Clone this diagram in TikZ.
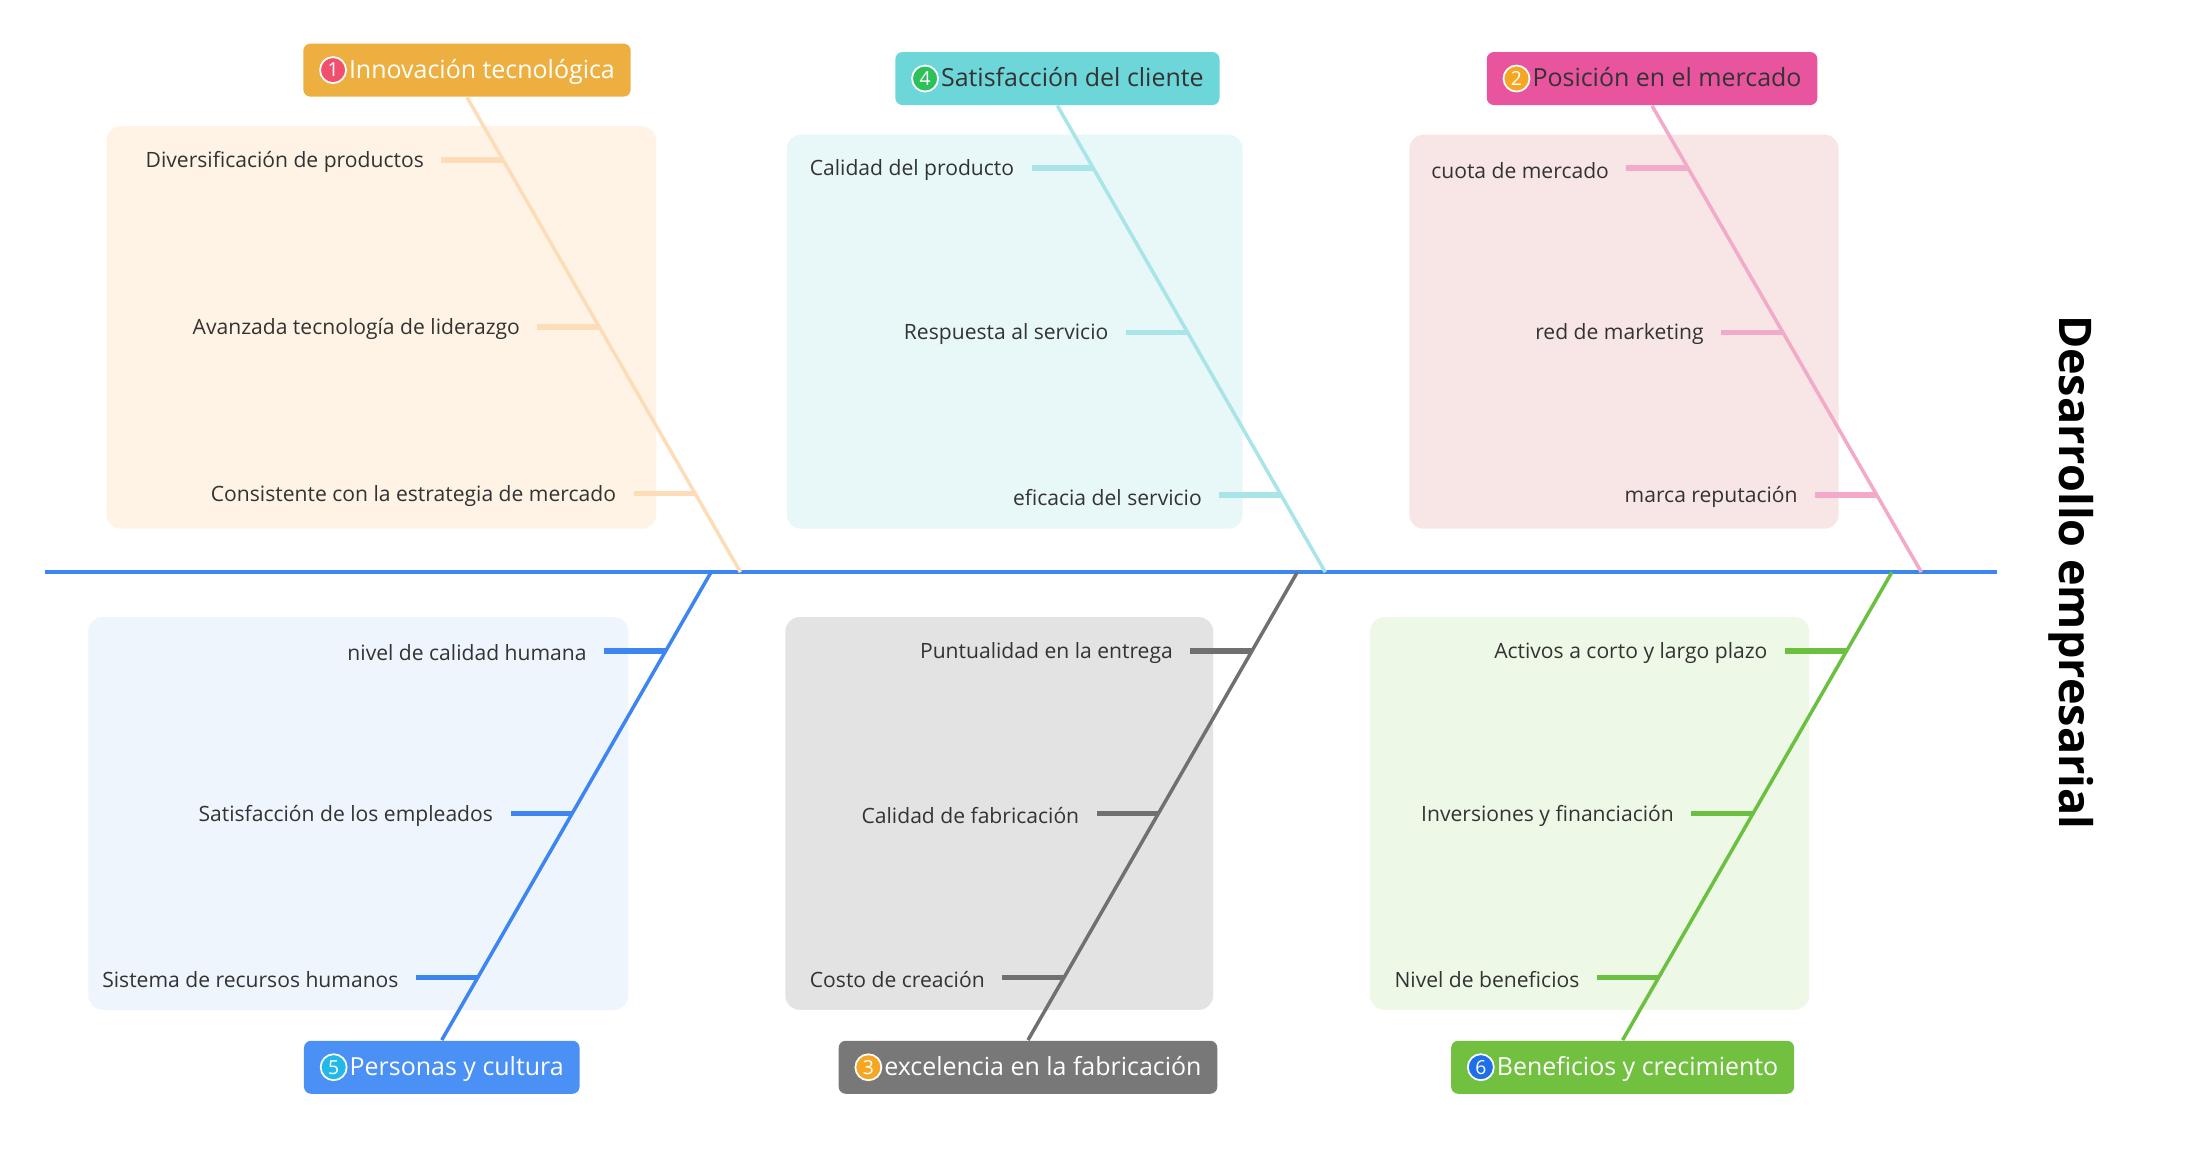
\documentclass[tikz,border=0pt]{standalone}
\usepackage{fontspec}
\setmainfont{Open Sans}
\usepackage{tikz}
\usetikzlibrary{calc, positioning}

\definecolor{OrgDark}{HTML}{EDB040}
\definecolor{OrgLine}{HTML}{FCDDB8}
\definecolor{OrgBg}{HTML}{FEF3E5}
\definecolor{TealDark}{HTML}{6DD6D8}
\definecolor{TealLine}{HTML}{A8E4E8}
\definecolor{TealBg}{HTML}{E8F7F7}
\definecolor{PinkDark}{HTML}{E8559E}
\definecolor{PinkLine}{HTML}{F2AAC8}
\definecolor{PinkBg}{HTML}{F8E6E6}
\definecolor{BlueDark}{HTML}{4A90F5}
\definecolor{BlueLine}{HTML}{3D85F0}
\definecolor{BlueBg}{HTML}{EEF5FD}
\definecolor{GrayDark}{HTML}{787878}
\definecolor{GrayLine}{HTML}{707070}
\definecolor{GrayBg}{HTML}{E3E3E3}
\definecolor{GreenDark}{HTML}{72C040}
\definecolor{GreenLine}{HTML}{6CC040}
\definecolor{GreenBg}{HTML}{EEF8E6}
\definecolor{TextDark}{HTML}{333333}
\definecolor{BadgeRed}{HTML}{F0506E}
\definecolor{BadgeGreen}{HTML}{2EC15A}
\definecolor{BadgeOrange}{HTML}{F5A623}
\definecolor{BadgeCyan}{HTML}{22B8E8}
\definecolor{BadgeBlue}{HTML}{1E6FE8}

\newcommand{\numbadge}[2]{\tikz[baseline=-0.6ex]\node[circle, fill=#2, draw=white,
  line width=0.5pt, inner sep=0pt, minimum size=2.6mm, text=white,
  font=\fontsize{5.5}{6}\selectfont] {#1};\hspace{0.6pt}}

\begin{document}
\begin{tikzpicture}[x=0.014025cm, y=-0.014025cm,
  header/.style={rectangle, rounded corners=2pt, minimum height=0.53cm,
    inner xsep=4.5pt, font=\fontsize{7.1}{8}\selectfont},
  %
  panel/.style={rounded corners=4pt, draw=none},
  %
  item/.style={anchor=east, text=TextDark, font=\fontsize{6}{7}\selectfont,
    inner sep=0pt},
  %
  bone/.style={line width=1pt},
  tick/.style={line width=1.6pt}
  ]

  \useasboundingbox (0,0) rectangle (1568,824);

  %%%%%%%%%%%%%%%%%%%%%%%%%%%%%%% panels
  \fill [panel, OrgBg] (76,90) rectangle (468,377);
  \fill [panel, TealBg] (561,96) rectangle (886,377);
  \fill [panel, PinkBg] (1005,96) rectangle (1311,377);
  \fill [panel, BlueBg] (63,440) rectangle (448,720);
  \fill [panel, GrayBg] (560,440) rectangle (865,720);
  \fill [panel, GreenBg] (977,440) rectangle (1290,720);

  %%%%%%%%%%%%%%%%%%%%%%%%%%%%%%% spine and title
  \coordinate (tail) at (32,408);
  \coordinate (head) at (1424,408);
  \draw [BlueLine, line width=1.2pt] (tail) -- (head);
  \node [rotate=-90, font=\fontsize{12.8}{13}\selectfont\bfseries] (title)
    at (1477,408) {Desarrollo empresarial};

  %%%%%%%%%%%%%%%%%%%%%%%%%%%%%%% headers
  \node [header, fill=OrgDark, text=white] (innov) at (333,50)
    {\numbadge{1}{BadgeRed}Innovación tecnológica};
  \node [header, fill=TealDark, text=TextDark] (cliente) at (754,56)
    {\numbadge{4}{BadgeGreen}Satisfacción del cliente};
  \node [header, fill=PinkDark, text=TextDark] (mercado) at (1178,56)
    {\numbadge{2}{BadgeOrange}Posición en el mercado};
  \node [header, fill=BlueDark, text=white] (personas) at (315,761)
    {\numbadge{5}{BadgeCyan}Personas y cultura};
  \node [header, fill=GrayDark, text=white] (fabrica) at (733,761)
    {\numbadge{3}{BadgeOrange}excelencia en la fabricación};
  \node [header, fill=GreenDark, text=white] (benef) at (1157,761)
    {\numbadge{6}{BadgeBlue}Beneficios y crecimiento};

  %%%%%%%%%%%%%%%%%%%%%%%%%%%%%%% bones with their items
  \foreach \hd/\an/\sx/\col/\ya/\ta/\yb/\tb/\yc/\tc in {
    innov/south/528/OrgLine/114/Diversificación de productos/233/Avanzada tecnología de liderazgo/352/Consistente con la estrategia de mercado,
    cliente/south/945/TealLine/120/Calidad del producto/237/Respuesta al servicio/353/eficacia del servicio,
    mercado/south/1370/PinkLine/120/cuota de mercado/237/red de marketing/353/marca reputación,
    personas/north/507/BlueLine/464/nivel de calidad humana/580/Satisfacción de los empleados/697/Sistema de recursos humanos,
    fabrica/north/925/GrayLine/464/Puntualidad en la entrega/580/Calidad de fabricación/697/Costo de creación,
    benef/north/1349/GreenLine/464/Activos a corto y largo plazo/580/Inversiones y financiación/697/Nivel de beneficios} {
    \coordinate (\hd-s) at (\sx,408);
    \coordinate (\hd-c) at (\hd.\an);
    \draw [bone, \col] (\hd-c) -- (\hd-s);
    \foreach \yy/\tt in {\ya/\ta, \yb/\tb, \yc/\tc} {
      \path let \p1 = (\hd-c), \p2 = (\hd-s) in
        \pgfextra{\pgfmathsetmacro{\fr}{(\yy*(-0.014025cm) - \y1)/(\y2 - \y1)}
          \xdef\frac{\fr}}
        coordinate (tp) at ($(\hd-c)!\frac!(\hd-s)$);
      \draw [tick, \col] (tp) -- ++(-44,0) coordinate (ts);
      \node [item] at ($(ts)+(-12,1.5)$) {\tt};
    }
  }

\end{tikzpicture}
\end{document}
